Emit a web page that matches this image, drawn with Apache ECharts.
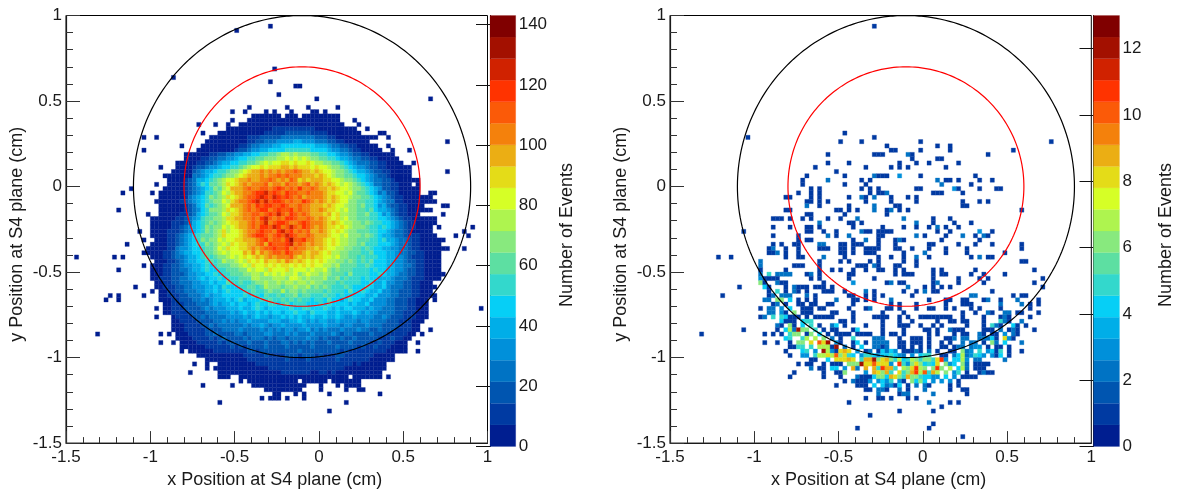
<!DOCTYPE html>
<html lang="en">
<head>
  <meta charset="UTF-8">
  <title>S4 plane event positions</title>
  <style>
    html, body { margin: 0; background: #fff; }
    #chart { width: 1181px; height: 494px; }
  </style>
</head>
<body>
<div id="chart"></div>
<script src="https://cdn.jsdelivr.net/npm/echarts@6/dist/echarts.min.js"></script>
<script>
  // colour bands, bottom to top
  const palette = ['#001e90', '#003aa2', '#0055b0', '#0073c4', '#0090da', '#00aee8', '#06cff6', '#33d8cc',
    '#5ddfa2', '#88e97e', '#aef44f', '#d6ff26', '#e4dc18', '#ebae14', '#f4810c', '#fb5a08',
    '#ff3300', '#d02200', '#a31000', '#800000'];
  const leftMax = 143;
  const rightMax = 13;
  const binSize = 0.025;
  const circleCenter = [-0.1, 0];
  const circleRadii = [1, 0.7];
  const circleColors = ['#000000', '#ff0000'];
  const tickLabelsLeftBar = [0, 20, 40, 60, 80, 100, 120, 140];

  // left panel: [row from top, first column, colour band per cell]
  const leftRows = [
    [23, 44, '000000 0.000.0000 00000'],
    [24, 43, '0000000 0000000000 00000'],
    [25, 41, '000000000 0000000000 000000'],
    [26, 38, '00 0000000001 1111111110 000000000'],
    [27, 36, '0000 0000000111 1122222211 1100000000'],
    [28, 34, '000000 0001112222 2333333332 2211000000 0'],
    [29, 33, '0000000 0001122333 4444554443 3322110000 00'],
    [30, 32, '00000000 0112334445 5666666665 5543322110 0000'],
    [31, 31, '000000000 1223445566 6677777766 6654433211 00000'],
    [32, 28, '00 0000112233 4455667788 9aa9a99988 7766544322 11000000'],
    [33, 28, '00 0011223344 5667788999 aabababa99 8877655433 221100000'],
    [34, 26, '0000 0112234556 677889abab bccbcbbcba a998876543 3322110000'],
    [35, 26, '0000 1223445667 789abbcbcc cddcdcccbc bba9987654 4322110000 00'],
    [36, 25, '00000 2345567789 9abcddeded edeefeddcd cbba998765 5432211000 00'],
    [37, 23, '0000000 3345677899 abcdddedee fefeeedddc dcba998876 6543221000 00'],
    [38, 24, '000012 3556789abb cddeddeefe dedfecdcdd dccbba9987 6543322100 0000'],
    [39, 24, '000012 3576889acb cdedeeefde edfeedefde dcdcbaba98 7653322110 00.0'],
    [40, 23, '0000012 3456798abd ddefeeffef gfefegeefe ddcdcbba99 8765422110 0000'],
    [41, 22, '00000012 3457789bac ddeefgghfg fegffeefee edccbbab98 8765342210 0000..00'],
    [42, 22, '00000013 4567989acb cdeffghgfh gfgfefdeee edcdcbba99 8876543211 0000000'],
    [43, 21, '000000123 4567899bac deefghfhfg gfefeegfed edcdcbb998 8776543311 00000000'],
    [44, 22, '00000012 3568789abd ddefegfggf fgfeefeedd dcdcbba998 9776453221 10000'],
    [45, 22, '00000012 3467999acb cdefefggef gffgefeedd edccbab998 8786554321 100000'],
    [46, 22, '00000112 3567889bac cdeeffefgf hfegfefedd dcdbcaa998 8977645321 1000'],
    [47, 20, '0000001123 4578899acc ddeefeghfe feggfeefed edcbcab998 8877665432 11000000'],
    [48, 20, '0000011123 5678989abc cddefefhef ggfeefgfee edcdcbaa99 8987766543 21100000'],
    [49, 20, '0000011234 5679899bab cddefeggfh gefhfegfed edccbcba99 9877676543 2110000'],
    [50, 20, '0000111234 567989acab bcdeefgffe ghfgefefdd edcbcba998 8877665433 2100000'],
    [51, 20, '0000112345 678889acbb bcdefggfef gfhgfeefed ddcbbab999 8987655433 21110000'],
    [52, 21, '000112345 679899babb ccdddefgef fegiffgeed dcbcbaa998 8877675543 3211000000'],
    [53, 20, '0000112345 677989abac bccddefdgf ffghefeded dcbcbaa998 9777666543 321100000'],
    [54, 19, '0 0000113445 667889bacb bccdedeffg ffgefeeddc dcbbaa9988 7876655443 321100000'],
    [55, 18, '00 0001123455 667889abab bbdcecedef fegfeedcdd cbcaa99888 7786665543 322110000'],
    [56, 20, '0001123345 56787899ab abcbcdcded eeefdcdcdc cbbab99887 8777665544 321110000'],
    [57, 21, '000112345 5667878a99 abacbcbdcc dcedcdcbcb cbaa998987 8786665544 322110000'],
    [58, 20, '0001122344 5567678889 9abacbbcbc bccbcbcbcb baa9a88887 7876665544 332110000'],
    [59, 20, '0001122334 5567667788 899babbacb bbcabbbaba ab98988877 7767665544 322110000'],
    [60, 20, '0001122234 4556676778 8899aa9bab abaab9abaa 9a98887977 7766765543 322110000'],
    [61, 20, '0011122334 4565667677 7888aa999a aa9bba9a99 9a88978777 6766555433 321110000'],
    [62, 21, '001122333 4455656687 7877899a99 a9aa9aa9a9 9888787777 6675564433 2211000'],
    [63, 21, '001112233 4445565766 6778878a99 9899a99a89 8987778766 6765564333 22110000'],
    [64, 22, '00112233 3445565676 6677877898 8a89989888 8787776866 7655644332 2211000'],
    [65, 22, '00111223 3345455666 6676776877 8788978877 7877676666 6556444332 22110000'],
    [66, 22, '00011222 3343455565 6756667787 7878787767 7686656766 5564443322 211000'],
    [67, 23, '0011122 2333454556 5665676677 6786777666 7676666565 5644443322 211000'],
    [68, 21, '0.0011122 2234344455 5655676566 6667667766 6765656655 5454433322 211000'],
    [69, 23, '0011112 2223334445 4565565656 6566766576 6655655565 4544333322 111000'],
    [70, 21, '0...01111 2232333344 4454565545 5656565565 5655654454 4443343222 111000'],
    [71, 25, '00111 1222233434 3445444455 5445565454 5544544443 4433332221 11000'],
    [72, 25, '00011 1122323333 3343445434 4544445444 4544434433 3433322221 1100'],
    [73, 25, '00011 1112222333 3433334343 4344344534 3433343334 3322322211 1100'],
    [74, 26, '0001 1112232222 3323333443 3343433343 3334323322 2232221111 100'],
    [75, 26, '0000 1111212322 2232333232 3323333433 2322232232 2222111211 00'],
    [76, 25, '0.000 0111112122 2223222322 2332323232 2232222322 2211211100 0'],
    [77, 27, '000 0001111112 1212222322 2232222232 2222322221 2112111000 0'],
    [78, 27, '0.0 0000011111 1112212222 2222232222 2222212111 1111110000 0'],
    [79, 31, '000000000 0011111211 1122212221 2111221111 11100000'],
    [80, 33, '0000000 0001111111 1121111211 1111211111 11000000'],
    [81, 36, '0000 0000011111 1111111111 1111111101 000000'],
    [82, 37, '000 0000000011 1111111111 1111110000 000000'],
    [83, 38, '00 0000000000 0111111100 1101000000 00000'],
    [84, 41, '000000000 0000000000 0000000.00 00000'],
    [85, 44, '000000 00000.0000 00.000000 0'],
    [86, 44, '000000 0000000... 0...0.0000'],
    [87, 47, '000 000000']
  ];
  // left panel: stray cells, [row, first column, cells]
  const leftStrays = [
    [2, 48, '0'], [3, 40, '0'], [12, 49, '0'], [14, 25, '0'], [15, 48, '0'], [16, 54, '00'], [18, 50, '0'],
    [19, 59, '0'], [19, 86, '0'], [21, 43, '0'], [21, 52, '0'], [21, 57, '0'], [21, 64, '0'],
    [22, 39, '0'], [22, 42, '0'], [22, 47, '0'], [22, 49, '0'], [22, 53, '0'], [22, 58, '00'], [22, 61, '0'],
    [24, 39, '0'], [24, 68, '0'], [25, 31, '0'], [25, 35, '0'], [25, 38, '0'], [25, 69, '0'], [26, 71, '0'],
    [27, 32, '0'], [27, 74, '00'], [28, 18, '0'], [28, 21, '0'], [28, 71, '000'], [28, 76, '0'], [29, 90, '0'],
    [30, 27, '0'], [30, 76, '0'], [31, 18, '0'], [31, 77, '0'], [31, 81, '0'], [34, 82, '0'], [35, 22, '0'],
    [36, 90, '0'], [39, 21, '0'], [40, 15, '0'], [41, 13, '0'], [41, 20, '0'], [44, 89, '00'], [45, 12, '0'],
    [45, 86, '0'], [46, 19, '0'], [46, 89, '0'], [49, 88, '0'], [49, 96, '0'], [50, 17, '0'], [50, 94, '0'],
    [51, 92, '0'], [51, 95, '0'], [52, 18, '0'], [53, 14, '0'], [54, 89, '00'], [54, 94, '0'],
    [56, 2, '0'], [56, 11, '0'], [56, 13, '0'], [58, 18, '0'], [59, 12, '0'], [60, 89, '0'], [63, 16, '0'],
    [64, 20, '0'], [65, 10, '0'], [65, 12, '0'], [65, 18, '0'], [66, 9, '0'], [66, 12, '0'], [66, 87, '0'],
    [68, 98, '0'], [73, 86, '0'], [74, 7, '0'], [74, 22, '0'], [74, 24, '0'], [74, 84, '0'], [76, 22, '0'],
    [76, 83, '0'], [78, 83, '0'], [81, 30, '0'], [81, 33, '0'], [82, 33, '0'], [82, 35, '00'], [83, 29, '0'],
    [83, 36, '00'], [84, 36, '000'], [84, 76, '0'], [85, 41, '0'], [85, 43, '0'], [86, 32, '0'], [86, 39, '0'],
    [87, 60, '0'], [87, 66, '0'], [87, 69, '00'], [88, 49, '00'], [88, 54, '0'], [88, 56, '0'], [88, 62, '0'],
    [88, 74, '0'], [89, 46, '0'], [89, 48, '000'], [89, 52, '0'], [89, 56, '0'], [90, 36, '0'], [90, 66, '0'],
    [92, 62, '0']
  ];

  // right panel: [row from top, "column" or "column:count"], count 1 if not given
  const rightRows = [
    [2, '48'], [27, '41'], [28, '18 48'], [29, '40 45 59 90'], [30, '51 63 66'], [31, '52 53 59 66 81'],
    [32, '37 48 49 50 56:2 57 75'], [33, '57 63 64'], [34, '37 42 54 58 61 68'], [35, '34 46 52 54 56 65'], [36, '39'],
    [37, '32 41 48:2 49 50 51 54:3 59 72'], [38, '31 37:2 45 47 63:2 65 66 68 73 76'], [39, '31 41 46 64:2 71'],
    [40, '33 35 45 47 49 58 59 67:3 68 73 77 78'], [41, '30 33 35 47 49 50 51:2 62 63 64 69'],
    [42, '27 28 33 35 42 45:2 46 48:2 52 56 58'], [43, '32 33 35 37 46 52 58 69 73 75'],
    [44, '32:2 35 42 48:2 53 54 69 70'], [45, '27 28 39 40 42 44 48:2 51 52:2 54 56 83'], [46, '32 33 41 51'],
    [47, '24 25 26 28 31 33 37 40 44:2 55:2 62 66'], [48, '35:2 42 43 45 58:2 62 67 71'],
    [49, '24 28 32 33 35 43 50 55 58 61 63:2 65 68'],
    [50, '17 32 33 36 39 45:2 46 47 49 50 51 52 63 66 73:3 76'],
    [51, '24 30 37:2 39 42:2 49 50 58:2 60 65 69:2 72 74:2 75'],
    [52, '30 32 33 43 46:2 49 53 54:2 55 64 73'],
    [53, '24 26 29 30 35:2 36:2 40 41 43 44 45 49 53 61 62 68 72 76 83'],
    [54, '23 24:2 27 30 35 36 37 40 41 43 46 47 48 49 53 54 57 61 65 70 83'],
    [55, '23 24 25:2 27 30 40 41 43 46 47 48 55 60:2 65 70 79'],
    [56, '11 14 27 30 31 36:2 41 49 52 55 58:2 61 71 73:2 75 76'],
    [57, '21:2 35 40 42 47 49 55 58 83 84'],
    [58, '21:2 29 30 31 35 44 45 46 48:2 49 53 54 58'],
    [59, '21 27 35 38 40 43 46 49 50 53 55 62 64 72 86'],
    [60, '21:2 23:5 25:2 26:2 27:2 28:2 32 33:2 35 42 43 53 55 56 57 62 64 65 71 74 79'],
    [61, '21:3 22 23 24 25 33 35 42 48 62 68 73 75 88'],
    [62, '21:6 22 25:2 26 27 36 43:3 51 52:2 54 55 62 63:2 68 74 86'],
    [63, '16 22:4 23 27 29:2 30 31 32 34 35 36 38 56:2 60 62 64 66 88'],
    [64, '23 25:5 27 29:2 30 32 36 37 38 41 46:2 48 55 58 60:2 62 63 76'],
    [65, '12 23 24:2 26:2 27:2 28:2 32:2 34 42 43 46 48 50 57 71:2 72:2 81 83 84'],
    [66, '22:2 23:2 25:6 26:6 28:4 30 32 34 39:2 43 44 46 48 52:2 61 65 66 69 70 74 75:2 78 82:2 87'],
    [67, '24 25:2 27 30 31 33 34 37 38 43 52 54 58 65 69 70 71 78:2 83:2 85 87'],
    [68, '21 23:2 24:2 26:3 28:4 31 32 33 35 36 42 46 47:2 51 52 54 58 61 62 65 67 71 73 78 85'],
    [69, '23:2 24:2 26:3 27 29:6 31 32 33 38 39 43 50 55 69 72 75:2 76 79:2 80:2 82 83 87'],
    [70, '21 22:2 24:5 26:5 27:4 28 29 30 32 34 35 36 37 38 43 48 49 50 51 54 56 59 60 61 62 63 64 65 66 69 74 78 79:2 80 85'],
    [71, '26:4 27 28 29 31:4 32:5 33:5 40 41 43 50 54 57 63 66 67 69 70 74 78:5 79:2 80 83:2'],
    [72, '25:2 26 28:6 29 31:4 33:5 35 38:2 39:4 41 46 50 54 55 56 59 62 64 70 74 76:5 77:2 78 81:4 82 84'],
    [73, '17 25 27:4 28:7 29:2 30:c 31:6 32:6 34:5 36 38 39 43 44:4 50 55 60 61 63 66:2 67 68 69 74 75 76 78:2 80 81:2 82 86'],
    [74, '7 22 24 26 28:5 29:6 30:6 32 33:6 35:4 37 39 40 41 42 44 45 46 47 50 52 53 55 61 63 67 69 70 73:2 74 76 77 79:3 81:2 82'],
    [75, '27:4 28:5 31:5 32:7 34:7 36:6 38:2 40 43:5 48:2 49:2 50:2 54 57 58 59 61 65 66 67:2 69:2 70:2 73:2 74:2 75:2 76:4 77 79:8 80:3 81'],
    [76, '22 25 28 30:6 31:6 33:8 35:a 36:8 37:c 39:3 40 43 44:4 46 48:2 49:2 50:2 51:2 54 55 57 58 59 61 64 66 69:2 71:2 72:2 74 76:6 77:2 79:4 83:2'],
    [77, '28 29 30:5 31:5 33:5 35:7 36:7 37:7 38 39:c 41:2 43 45:4 48:2 49:2 50 51:2 54 55 57 59 61 64 65 67 68:2 69:2 71:2 72:3 73:3 75 77 78 80'],
    [78, '27 31:4 32:5 34:3 36:c 37:7 38:3 39 40:8 41:9 42:8 44:3 46 47:2 49 50:4 51:2 52:4 53:3 55 56 57 58:2 59 61:2 63 66 67 69:6 70:2 71:3 73:5 75:3 76:4 77 78:5 80 83'],
    [79, '28 31:3 32:3 34:5 35:7 36:7 37:8 38:7 39:a 40:6 41:8 42:5 43:4 45:3 46:5 47:5 48:4 49:3 50:4 51:4 52:5 53:4 54:3 55:2 57:3 59:4 60:5 61:5 64 65 67:2 68:4 69:7 70:2 71:3 72:5 73:4 74:3 76:3 77 78:4 80'],
    [80, '33 34 37:4 39:8 40:8 41:8 42:9 43:8 45:5 46:9 47:9 48:c 49:6 50:8 51:9 52:6 53:5 54:7 55:4 56:5 57:7 58:6 59:5 60:6 61:6 62:5 63:8 64:b 65:3 67:4 68:4 69:7 70:3 72:2 73:2 79:2'],
    [81, '30 32 33 36 38 39 40 42:6 43:6 44:6 45:c 46:8 47:8 48:a 49:8 50:8 51:8 52:3 54:b 55:5 56:3 57:6 58:8 59:6 60:4 61:5 62:4 63:8 65:6 66:3 67:4 69:6 70:2 72 73 74 75'],
    [82, '33:2 35 36 38:4 39:4 41:3 43:9 44:2 46:9 48:9 49:5 50:b 51:9 52:9 53:5 55:7 56:6 57:8 58:b 59:7 60:6 62:6 63:b 64:6 66:7 68:4 69:7 70:2 72 73 74'],
    [83, '29 36 39 40 41:6 46:3 48:9 49:8 50:6 51:9 52:5 54:8 55:5 56:6 57:9 58:b 59:7 60:a 61:5 62:9 63:7 65:6 67:3 68:5 70 73 74:2 75 76'],
    [84, '28 36 40 44:2 45 46 47 48:4 49:6 50:6 51:4 52:9 53:8 54:6 55:5 56:9 57:6 58:6 59:5 60:4 61:4 62:3 63:3 65:4 67:3 69 70 71 72'],
    [85, '41 43:2 44 45 46 47:3 49:3 50:4 51:3 52:5 54:3 55 57:6 58:4 59:6 60:4 62:3 64:3 66:3 68'],
    [86, '39 44 45 46 48:4 50:4 51:2 52:3 53 54:4 56 58:2 60:2 61 66 68'],
    [87, '46 47 49:2 50:2 51 54:2 56 60:2 66 69 70'],
    [88, '49:2 54 55:2 56:2 62:2 70'], [89, '46 49 50 52 56 58'], [90, '42 61:2 66 68'], [91, '64'], [92, '54 62'],
    [93, '47'], [95, '62'], [96, '44 61'], [98, '69']
  ];

  function bandValue(band, max) {
    return (band + 0.5) * max / palette.length;
  }

  function leftCells() {
    const out = [];
    leftRows.concat(leftStrays).forEach(function (seg) {
      seg[2].replace(/ /g, '').split('').forEach(function (ch, i) {
        if (ch === '.') return;
        out.push([-1.5 + (seg[1] + i) * binSize, 1 - seg[0] * binSize, bandValue(parseInt(ch, 36), leftMax)]);
      });
    });
    return out;
  }

  function rightCells() {
    const out = [];
    rightRows.forEach(function (seg) {
      seg[1].split(' ').forEach(function (cell) {
        const p = cell.split(':');
        out.push([-1.5 + Number(p[0]) * binSize, 1 - seg[0] * binSize, p[1] ? parseInt(p[1], 36) : 1]);
      });
    });
    return out;
  }

  function cellRenderer(max) {
    return function (params, api) {
      const tl = api.coord([api.value(0), api.value(1)]);
      const br = api.coord([api.value(0) + binSize, api.value(1) - binSize]);
      const band = Math.min(palette.length - 1, Math.floor(api.value(2) / max * palette.length));
      return {
        type: 'rect',
        shape: { x: tl[0], y: tl[1], width: br[0] - tl[0], height: br[1] - tl[1] },
        style: { fill: palette[band], stroke: palette[band], lineWidth: 0.3 }
      };
    };
  }

  function renderCircle(params, api) {
    const r = circleRadii[params.dataIndex];
    const pts = [];
    for (let a = 0; a <= 240; a++) {
      const t = a / 240 * 2 * Math.PI;
      pts.push(api.coord([api.value(0) + r * Math.cos(t), api.value(1) + r * Math.sin(t)]));
    }
    return {
      type: 'polyline',
      shape: { points: pts },
      style: { fill: null, stroke: circleColors[params.dataIndex], lineWidth: 1.2 }
    };
  }

  function renderBarBand(params, api) {
    const bottom = api.coord([0, api.value(0)]);
    const top = api.coord([1, api.value(1)]);
    return {
      type: 'rect',
      shape: { x: bottom[0], y: top[1], width: top[0] - bottom[0], height: bottom[1] - top[1] },
      style: { fill: palette[params.dataIndex], stroke: palette[params.dataIndex], lineWidth: 0.2 }
    };
  }

  const font = 'Liberation Sans';
  const ink = '#1a1a1a';

  function plotXAxis(idx) {
    return {
      type: 'value', gridIndex: idx, min: -1.5, max: 1, interval: 0.5,
      name: 'x Position at S4 plane (cm)', nameLocation: 'middle', nameGap: 27,
      nameTextStyle: { fontFamily: font, fontSize: 18, color: ink, padding: [0, 4, 0, 0] },
      axisLine: { onZero: false, lineStyle: { color: ink, width: 1.2 } },
      axisTick: { inside: true, length: 12, lineStyle: { color: '#333', width: 1 } },
      minorTick: { show: true, splitNumber: 5, length: 6, lineStyle: { color: '#333', width: 1 } },
      axisLabel: { fontFamily: font, fontSize: 17, color: ink, margin: 6 },
      splitLine: { show: false }, minorSplitLine: { show: false }
    };
  }
  function plotYAxis(idx) {
    return {
      type: 'value', gridIndex: idx, min: -1.5, max: 1, interval: 0.5,
      name: 'y Position at S4 plane (cm)', nameLocation: 'middle', nameGap: 40,
      nameTextStyle: { fontFamily: font, fontSize: 18, color: ink, padding: [0, 10, 0, 0] },
      axisLine: { onZero: false, lineStyle: { color: ink, width: 1.2 } },
      axisTick: { inside: true, length: 14, lineStyle: { color: '#333', width: 1 } },
      minorTick: { show: true, splitNumber: 5, length: 7, lineStyle: { color: '#333', width: 1 } },
      axisLabel: { fontFamily: font, fontSize: 17, color: ink, margin: 4, padding: [0, 0, 4, 0] },
      splitLine: { show: false }, minorSplitLine: { show: false }
    };
  }
  function barXAxis(idx) {
    return { type: 'value', gridIndex: idx, min: 0, max: 1, show: false };
  }
  function barYAxis(idx, max, interval, gap) {
    return {
      type: 'value', gridIndex: idx, position: 'right', min: 0, max: max, interval: interval,
      name: 'Number of Events', nameLocation: 'middle', nameRotate: 90, nameGap: gap,
      nameTextStyle: { fontFamily: font, fontSize: 18, color: ink, padding: [0, 8, 0, 0] },
      axisLine: { show: true, lineStyle: { color: ink, width: 1 } },
      axisTick: { show: true, inside: true, length: 14, lineStyle: { color: '#111', width: 1 } },
      axisLabel: { fontFamily: font, fontSize: 17, color: ink, margin: 3, showMaxLabel: false, verticalAlignMinLabel: 'middle' },
      splitLine: { show: false }
    };
  }
  function barBands(max) {
    return palette.map(function (c, i) {
      return [i * max / palette.length, (i + 1) * max / palette.length];
    });
  }
  function cellSeries(idx, data, max) {
    return {
      type: 'custom', xAxisIndex: idx, yAxisIndex: idx, coordinateSystem: 'cartesian2d',
      renderItem: cellRenderer(max), data: data, silent: true, progressive: 0, clip: false,
      encode: { x: 0, y: 1 }, z: 2
    };
  }
  function circleSeries(idx) {
    return {
      type: 'custom', xAxisIndex: idx, yAxisIndex: idx, renderItem: renderCircle,
      data: circleRadii.map(function () { return circleCenter.slice(); }),
      silent: true, clip: false, encode: { x: 0, y: 1 }, z: 3
    };
  }
  function barSeries(idx, max) {
    return {
      type: 'custom', xAxisIndex: idx, yAxisIndex: idx, renderItem: renderBarBand,
      data: barBands(max), silent: true, encode: { y: [0, 1] }, z: 1
    };
  }

  const frame = { show: true, borderColor: '#000', borderWidth: 1, backgroundColor: 'transparent' };
  const chart = echarts.init(document.getElementById('chart'), null, { renderer: 'canvas' });
  chart.setOption({
    animation: false,
    backgroundColor: '#fff',
    grid: [
      Object.assign({ left: 66, top: 15.5, width: 421.5, height: 431 }, frame),
      { left: 490, top: 15.5, width: 25.7, height: 431 },
      Object.assign({ left: 670, top: 15.5, width: 421.3, height: 431 }, frame),
      { left: 1093.5, top: 15.5, width: 26, height: 431 }
    ],
    xAxis: [plotXAxis(0), barXAxis(1), plotXAxis(2), barXAxis(3)],
    yAxis: [plotYAxis(0), barYAxis(1, leftMax, tickLabelsLeftBar[1], 42), plotYAxis(2), barYAxis(3, rightMax, 2, 38)],
    series: [
      cellSeries(0, leftCells(), leftMax), circleSeries(0), barSeries(1, leftMax),
      cellSeries(2, rightCells(), rightMax), circleSeries(2), barSeries(3, rightMax)
    ]
  });
</script>
</body>
</html>
